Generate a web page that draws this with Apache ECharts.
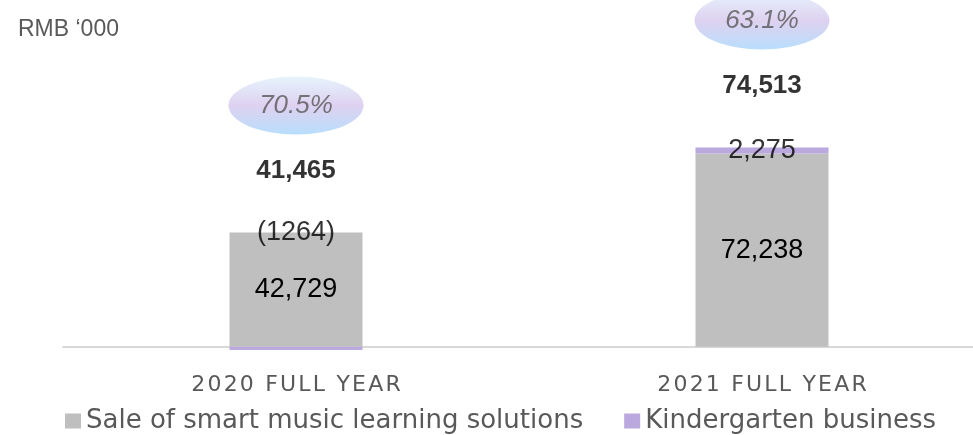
<!DOCTYPE html>
<html>
<head>
<meta charset="utf-8">
<script src="https://cdn.jsdelivr.net/npm/echarts@6/dist/echarts.min.js"></script>
<style>
  html, body { margin: 0; padding: 0; background: #fff; }
  #chart { width: 973px; height: 435px; }
</style>
</head>
<body>
<div id="chart"></div>
<script>
// 数据
const categories = ['2020 FULL YEAR', '2021 FULL YEAR'];
const saleValues = [42729, 72238];       // Sale of smart music learning solutions
const kinderValues = [-1264, 2275];      // Kindergarten business
const totalValues = [41465, 74513];
const growthLabels = ['70.5%', '63.1%'];

const LABEL_FONT = "'Liberation Sans', Arial, sans-serif";

const chart = echarts.init(document.getElementById('chart'));

// 堆叠顶部（正值部分）
const stackTop = saleValues.map((s, i) => s + Math.max(kinderValues[i], 0));
const kinderMid = saleValues.map((s, i) => s + Math.max(kinderValues[i], 0) / 2);

const fmt = v => v < 0 ? '(' + Math.abs(v) + ')' : v.toLocaleString('en-US');

const option = {
    animation: false,
    title: {
        text: 'RMB \u2018000',
        left: 18,
        top: 18,
        padding: 0,
        textStyle: { fontFamily: LABEL_FONT, fontSize: 23, fontWeight: 'normal', color: '#595959' }
    },
    legend: {
        data: ['Sale of smart music learning solutions', 'Kindergarten business'],
        left: 60,
        top: 403,
        itemWidth: 16,
        itemHeight: 15,
        itemGap: 41,
        icon: 'rect',
        textStyle: { fontFamily: 'DejaVu Sans', fontSize: 26, color: '#595959' }
    },
    grid: { left: 63, width: 932, top: 26, bottom: 75, outerBoundsMode: 'none' },
    xAxis: {
        type: 'category',
        data: categories,
        axisLine: { lineStyle: { color: '#d9d9d9', width: 2 } },
        axisTick: { show: false },
        axisLabel: {
            margin: 14,
            fontFamily: 'DejaVu Sans',
            fontSize: 22,
            color: '#595959',
            formatter: s => s.split('').join('\u200a')
        }
    },
    yAxis: { type: 'value', min: -5000, max: 120000, show: false },
    series: [
        {
            name: 'Sale of smart music learning solutions',
            type: 'bar',
            stack: 'total',
            barWidth: 133,
            itemStyle: { color: '#bfbfbf' },
            label: {
                show: true,
                position: 'inside',
                fontFamily: LABEL_FONT,
                fontSize: 27,
                color: '#000',
                formatter: p => fmt(p.value)
            },
            data: saleValues
        },
        {
            name: 'Kindergarten business',
            type: 'bar',
            stack: 'total',
            barWidth: 133,
            itemStyle: { color: '#baa8df' },
            data: kinderValues
        },
        {
            // 幼儿园业务数值标签
            type: 'scatter',
            symbolSize: 1,
            itemStyle: { color: 'transparent' },
            label: {
                show: true,
                position: 'inside',
                fontFamily: LABEL_FONT,
                fontSize: 27,
                color: '#000',
                formatter: p => fmt(kinderValues[p.dataIndex])
            },
            data: kinderMid,
            z: 5
        },
        {
            // 合计
            type: 'scatter',
            symbolSize: 1,
            itemStyle: { color: 'transparent' },
            label: {
                show: true,
                position: 'inside',
                offset: [0, -62],
                fontFamily: LABEL_FONT,
                fontSize: 26,
                fontWeight: 'bold',
                color: '#000',
                formatter: p => totalValues[p.dataIndex].toLocaleString('en-US')
            },
            data: stackTop,
            z: 5
        },
        {
            // 椭圆百分比
            type: 'scatter',
            symbol: 'circle',
            symbolSize: [135, 58],
            symbolOffset: [0, -127],
            itemStyle: {
                color: new echarts.graphic.LinearGradient(0, 0, 0, 1, [
                    { offset: 0, color: '#e0f1fc' },
                    { offset: 0.5, color: '#d6c6ec' },
                    { offset: 1, color: '#a6d6fb' }
                ])
            },
            label: {
                show: true,
                position: 'inside',
                fontFamily: LABEL_FONT,
                fontSize: 26,
                fontStyle: 'italic',
                color: '#595959',
                formatter: p => growthLabels[p.dataIndex]
            },
            data: stackTop,
            z: 4
        }
    ]
};

chart.setOption(option);
window.addEventListener('resize', () => chart.resize());
</script>
</body>
</html>
